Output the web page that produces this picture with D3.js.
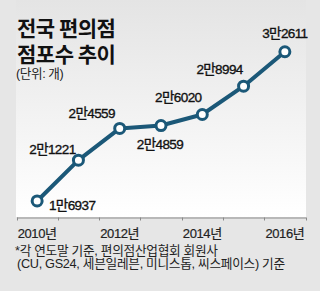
<!DOCTYPE html>
<html>
<head>
<meta charset="utf-8">
<script src="https://cdn.jsdelivr.net/npm/d3@7"></script>
<style>
  body { margin: 0; background: #e6e6e6; }
  svg { display: block; font-family: "Liberation Sans", "Noto Sans CJK KR", sans-serif; }
</style>
</head>
<body>
<div id="chart"></div>
<script>
const years = ["2010", "2011", "2012", "2013", "2014", "2015", "2016"]
const stores = [16937, 21221, 24559, 24859, 26020, 28994, 32611]
const valueLabels = ["1만6937", "2만1221", "2만4559", "2만4859", "2만6020", "2만8994", "3만2611"]
const tickYears = ["2010", "2012", "2014", "2016"]

const width = 320, height = 291
const svg = d3.select("#chart").append("svg")
    .attr("width", width)
    .attr("height", height)

// panel gradient
let grad = svg.append("defs").append("linearGradient")
    .attr("id", "bg").attr("x1", 0).attr("y1", 0).attr("x2", 0).attr("y2", 1)
grad.append("stop").attr("offset", "0%").attr("stop-color", "#e4e4e4")
grad.append("stop").attr("offset", "100%").attr("stop-color", "#ffffff")

svg.append("rect").attr("width", width).attr("height", height).attr("fill", "#e6e6e6")
svg.append("rect")
    .attr("x", 16).attr("y", 0)
    .attr("width", 290).attr("height", 217)
    .attr("fill", "url(#bg)")

let x = d3.scaleBand().domain(years).range([16.5, 305.5])
let y = d3.scaleLinear().domain([15000, 35000]).range([219.4, 29])

// axis
let axis = svg.append("g")
    .attr("transform", "translate(0,217.5)")
    .call(d3.axisBottom(x).tickSize(0).tickFormat(""))
axis.select(".domain").attr("stroke", "#8a8a8a")
let edges = x.domain().map(d => x(d)).concat([x.range()[1]])
axis.selectAll("line.edge").data(edges).enter().append("line")
    .attr("class", "edge")
    .attr("x1", d => Math.round(d) + 0.5).attr("x2", d => Math.round(d) + 0.5)
    .attr("y1", 0).attr("y2", 3)
    .attr("stroke", "#8a8a8a")

svg.selectAll("text.year").data(tickYears).enter().append("text")
    .attr("class", "year")
    .attr("x", d => x(d) + x.bandwidth() / 2)
    .attr("y", 238)
    .attr("text-anchor", "middle")
    .attr("font-size", 13)
    .attr("letter-spacing", -0.4)
    .attr("fill", "#222")
    .attr("stroke", "#222").attr("stroke-width", 0.2)
    .text(d => d + "년")

// line
const lineColor = "#1b5878"
let line = d3.line()
    .x((d, i) => x(years[i]) + x.bandwidth() / 2)
    .y(d => y(d))
svg.append("path")
    .datum(stores)
    .attr("d", line)
    .attr("fill", "none")
    .attr("stroke", lineColor)
    .attr("stroke-width", 4)
    .attr("stroke-linejoin", "round")

svg.selectAll("circle.pt").data(stores).enter().append("circle")
    .attr("class", "pt")
    .attr("cx", (d, i) => x(years[i]) + x.bandwidth() / 2)
    .attr("cy", d => y(d))
    .attr("r", 5)
    .attr("fill", "#fff")
    .attr("stroke", lineColor)
    .attr("stroke-width", 3)

// value labels: offsets relative to each point
const labelDx = [35, -26, -28, -1, -24, -24, 0]
const labelDy = [9, -6, -10, 23, -12, -12, -14]
svg.selectAll("text.val").data(stores).enter().append("text")
    .attr("class", "val")
    .attr("x", (d, i) => x(years[i]) + x.bandwidth() / 2 + labelDx[i])
    .attr("y", (d, i) => y(d) + labelDy[i])
    .attr("text-anchor", "middle")
    .attr("font-size", 13.5)
    .attr("letter-spacing", -0.6)
    .attr("fill", "#111")
    .attr("stroke", "#111").attr("stroke-width", 0.35)
    .text((d, i) => valueLabels[i])

// title (two lines in one text element)
let title = svg.append("text")
    .attr("font-weight", "bold").attr("font-size", 21).attr("fill", "#111")
    .attr("font-family", "'Noto Sans CJK KR', sans-serif")
    .attr("letter-spacing", -0.5)
title.append("tspan").attr("x", 17).attr("y", 36).text("전국 편의점")
title.append("tspan").attr("x", 17).attr("y", 62).text("점포수 추이")

svg.append("text").attr("x", 16).attr("y", 78)
    .attr("font-size", 12.6).attr("fill", "#222").attr("letter-spacing", -0.4)
    .text("(단위: 개)")

// footnote
svg.append("text").attr("x", 15).attr("y", 255)
    .attr("font-size", 12.7).attr("fill", "#222").attr("letter-spacing", -0.3)
    .text("*각 연도말 기준, 편의점산업협회 회원사")
svg.append("text").attr("x", 17).attr("y", 268)
    .attr("font-size", 12.7).attr("fill", "#222").attr("letter-spacing", -0.3)
    .text("(CU, GS24, 세븐일레븐, 미니스톱, 씨스페이스) 기준")
</script>
</body>
</html>
